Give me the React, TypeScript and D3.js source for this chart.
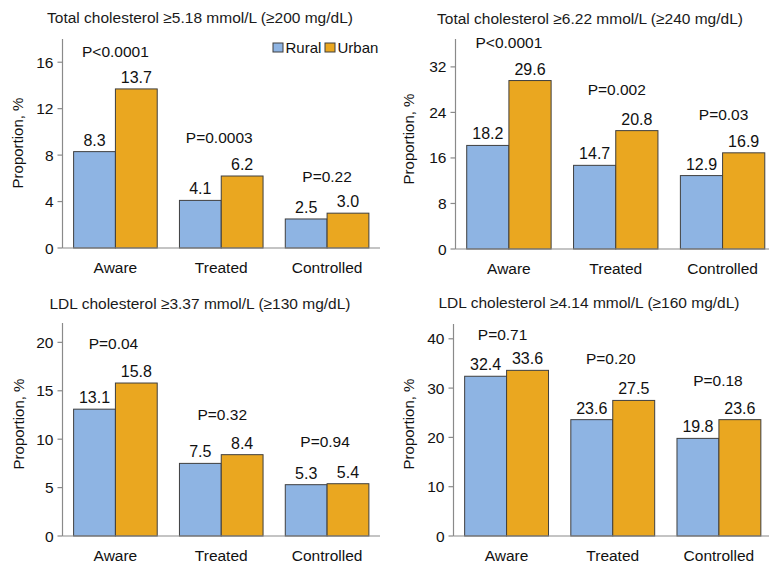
import React from "react";
import * as d3 from "d3";

const categories = ["Aware", "Treated", "Controlled"];
const seriesNames = ["Rural", "Urban"];
const titles = [
  "Total cholesterol \u22655.18 mmol/L (\u2265200 mg/dL)",
  "Total cholesterol \u22656.22 mmol/L (\u2265240 mg/dL)",
  "LDL cholesterol \u22653.37 mmol/L (\u2265130 mg/dL)",
  "LDL cholesterol \u22654.14 mmol/L (\u2265160 mg/dL)",
];
const ruralValues = [
  [8.3, 4.1, 2.5],
  [18.2, 14.7, 12.9],
  [13.1, 7.5, 5.3],
  [32.4, 23.6, 19.8],
];
const urbanValues = [
  [13.7, 6.2, 3.0],
  [29.6, 20.8, 16.9],
  [15.8, 8.4, 5.4],
  [33.6, 27.5, 23.6],
];
const pValueLabels = [
  ["P<0.0001", "P=0.0003", "P=0.22"],
  ["P<0.0001", "P=0.002", "P=0.03"],
  ["P=0.04", "P=0.32", "P=0.94"],
  ["P=0.71", "P=0.20", "P=0.18"],
];
const yTickValues = [
  [0, 4, 8, 12, 16],
  [0, 8, 16, 24, 32],
  [0, 5, 10, 15, 20],
  [0, 10, 20, 30, 40],
];
const yMaxValues = [18, 36.9, 22, 43];
// vertical level (in data units) where each P-value label is centred
const pValueLevels = [
  [16.9, 9.5, 6.2],
  [36.2, 28.1, 23.7],
  [19.9, 12.6, 9.8],
  [40.8, 36.0, 31.5],
];
// horizontal nudge (px) of each P-value label from its group centre
const pValueNudge = [
  [0, -2, 0],
  [0, 1, 1],
  [-2, 1, -2],
  [-4, -2, -1],
];

// layout (pixels)
const panelLayout = [
  { left: 62.5, right: 380, axisEnd: 380, top: 39, bottom: 248, titleX: 200, titleY: 17, ylabX: 17, ylabY: 143 },
  { left: 455.5, right: 776, axisEnd: 769, top: 39, bottom: 249, titleX: 590, titleY: 18, ylabX: 408, ylabY: 139 },
  { left: 62.5, right: 380, axisEnd: 380, top: 323, bottom: 536, titleX: 200, titleY: 303, ylabX: 18, ylabY: 424 },
  { left: 453.5, right: 772, axisEnd: 769, top: 324, bottom: 536, titleX: 589, titleY: 302, ylabX: 408, ylabY: 424 },
];

const COLORS = ["#8EB4E3", "#EAA720"];
const STROKE = "#3f3f3f";
const AXIS = "#8a8a8a";
const FONT = "'Liberation Sans', Arial, Helvetica, sans-serif";

function Panel({ i }: { i: number }) {
  const L = panelLayout[i];
  const x0 = d3
    .scaleBand<string>()
    .domain(categories)
    .range([L.left, L.right])
    .paddingInner(0.21)
    .paddingOuter(0.105);
  const x1 = d3.scaleBand<string>().domain(seriesNames).range([0, x0.bandwidth()]);
  const y = d3.scaleLinear().domain([0, yMaxValues[i]]).range([L.bottom, L.top]);
  const series = [ruralValues[i], urbanValues[i]];

  return (
    <g>
      <text x={L.titleX} y={L.titleY} textAnchor="middle" dominantBaseline="central" fontSize={15.5} fill="#1a1a1a">
        {titles[i]}
      </text>
      <text
        transform={`translate(${L.ylabX},${L.ylabY}) rotate(-90)`}
        textAnchor="middle"
        dominantBaseline="central"
        fontSize={15}
        fill="#111"
      >
        Proportion, %
      </text>
      {/* bars */}
      {categories.map((c, ci) =>
        series.map((vals, si) => {
          const bx = (x0(c) as number) + (x1(seriesNames[si]) as number);
          const by = y(vals[ci]);
          return (
            <g key={c + si}>
              <rect
                x={bx}
                y={by}
                width={x1.bandwidth()}
                height={L.bottom - by}
                fill={COLORS[si]}
                stroke={STROKE}
                strokeWidth={1}
              />
              <text
                x={bx + x1.bandwidth() / 2}
                y={by - 6}
                textAnchor="middle"
                fontSize={16}
                fill="#111"
              >
                {vals[ci].toFixed(1)}
              </text>
            </g>
          );
        })
      )}
      {/* P values */}
      {categories.map((c, ci) => (
        <text
          key={"p" + c}
          x={(x0(c) as number) + x0.bandwidth() / 2 + pValueNudge[i][ci]}
          y={y(pValueLevels[i][ci])}
          textAnchor="middle"
          dominantBaseline="central"
          fontSize={15.5}
          fill="#111"
        >
          {pValueLabels[i][ci]}
        </text>
      ))}
      {/* y axis */}
      <line x1={L.left} x2={L.left} y1={L.top} y2={L.bottom} stroke={AXIS} strokeWidth={1.2} />
      {yTickValues[i].map((t) => (
        <g key={"t" + t}>
          <line x1={L.left - 5} x2={L.left} y1={y(t)} y2={y(t)} stroke={AXIS} strokeWidth={1.2} />
          <text x={L.left - 9} y={y(t)} textAnchor="end" dominantBaseline="central" fontSize={15.5} fill="#111">
            {t}
          </text>
        </g>
      ))}
      {/* x axis */}
      <line x1={L.left} x2={L.axisEnd} y1={L.bottom} y2={L.bottom} stroke={AXIS} strokeWidth={1.2} />
      {categories.map((c) => (
        <text
          key={"x" + c}
          x={(x0(c) as number) + x0.bandwidth() / 2}
          y={L.bottom + 19}
          textAnchor="middle"
          dominantBaseline="central"
          fontSize={15.5}
          fill="#111"
        >
          {c}
        </text>
      ))}
    </g>
  );
}

function Legend() {
  const items = [
    { x: 273, label: seriesNames[0], color: COLORS[0] },
    { x: 325, label: seriesNames[1], color: COLORS[1] },
  ];
  return (
    <g>
      {items.map((it) => (
        <g key={it.label}>
          <rect x={it.x} y={43} width={10} height={9} fill={it.color} stroke={STROKE} strokeWidth={1} />
          <text x={it.x + 12.5} y={47.5} dominantBaseline="central" fontSize={15} fill="#111">
            {it.label}
          </text>
        </g>
      ))}
    </g>
  );
}

export default function App() {
  return (
    <svg
      width={769}
      height={564}
      style={{ position: "absolute", left: 0, top: 0, background: "#fff", fontFamily: FONT }}
    >
      <rect x={0} y={0} width={769} height={564} fill="#fff" />
      {[0, 1, 2, 3].map((i) => (
        <Panel key={i} i={i} />
      ))}
      <Legend />
    </svg>
  );
}
